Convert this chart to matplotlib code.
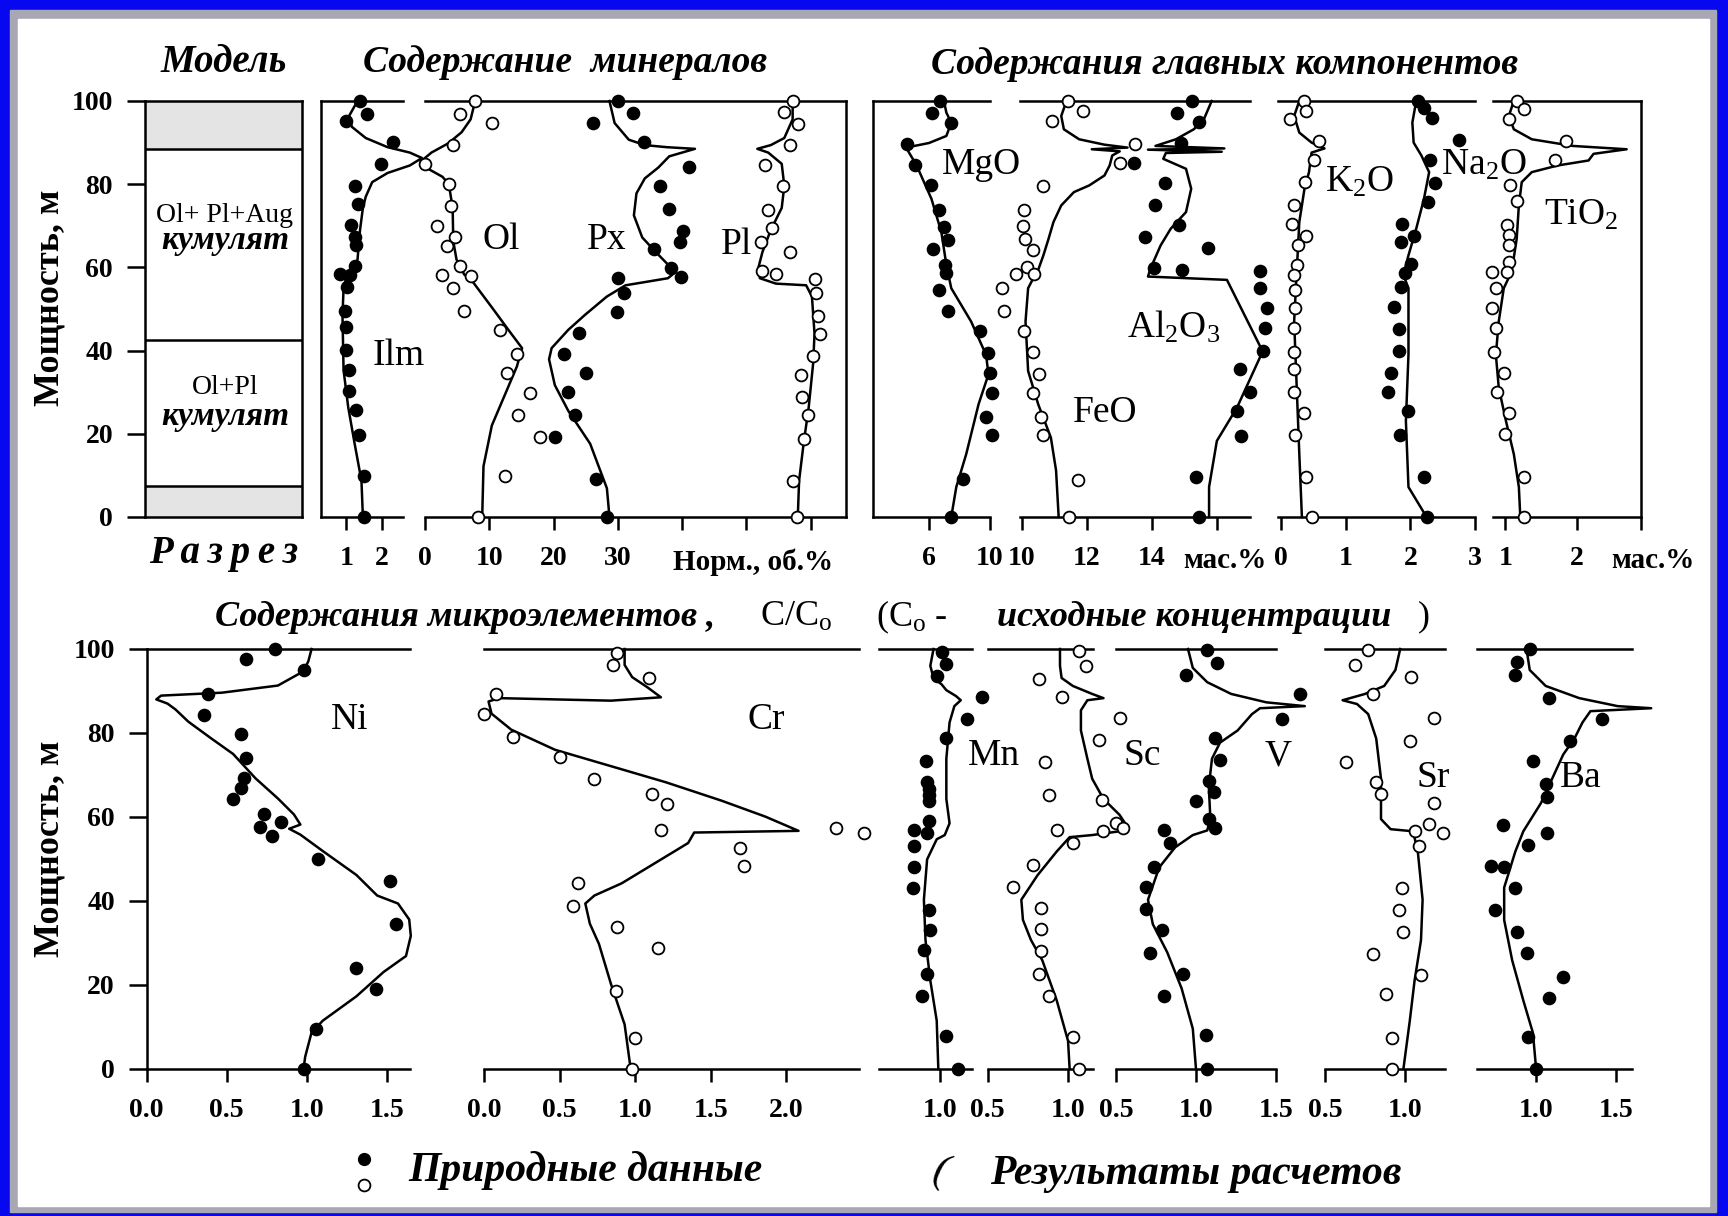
import numpy as np
import matplotlib.pyplot as plt
from matplotlib.patches import Rectangle

plt.rcParams['font.family'] = ['Liberation Serif', 'DejaVu Serif']
plt.rcParams['mathtext.fontset'] = 'custom'
plt.rcParams['mathtext.rm'] = 'Liberation Serif'
plt.rcParams['mathtext.it'] = 'Liberation Serif:italic'
plt.rcParams['mathtext.bf'] = 'Liberation Serif:bold'

# ---------------- data: depth (m) and value ----------------
# minerals, norm. vol.%
ilm_cd = [100, 96.5, 93.8, 91.1, 88.9, 87.6, 86.3, 84.5, 82.7, 80.5, 77.0, 74.3, 69.0, 61.9, 59.7, 57.9, 54.8, 48.6, 35.3, 26.4, 17.6, 8.7, 0]
ilm_cv = [1.31, 1.08, 1.15, 1.54, 2.15, 2.77, 3.11, 2.77, 2.15, 1.72, 1.54, 1.46, 1.38, 1.31, 1.23, 1.0, 0.92, 0.89, 0.92, 1.05, 1.23, 1.42, 1.46]
ilm_pd = [100, 96.9, 95.1, 90.2, 84.9, 79.6, 75.2, 70.1, 67.2, 65.4, 60.4, 58.3, 58.2, 55.2, 49.6, 45.7, 40.2, 35.3, 30.2, 25.8, 19.8, 9.8, 0]
ilm_pv = [1.38, 1.57, 1.0, 2.3, 1.97, 1.23, 1.31, 1.12, 1.23, 1.28, 1.23, 0.82, 1.11, 1.03, 0.95, 1.0, 1.0, 1.08, 1.08, 1.26, 1.34, 1.49, 1.49]

ol_cd = [100, 95.6, 92.5, 89.8, 87.6, 85.4, 83.6, 81.8, 80.1, 74.3, 66.3, 61.9, 58.3, 56.6, 50.4, 44.1, 40.6, 36.2, 30.0, 22.0, 12.2, 0]
ol_cv = [7.8, 7.1, 5.7, 3.6, 1.0, -0.7, 0.6, 2.7, 3.7, 4.3, 4.4, 4.9, 6.1, 7.4, 10.4, 13.4, 15.1, 14.3, 12.6, 10.4, 9.1, 8.9]
ol_pd = [100, 96.9, 94.7, 89.4, 84.9, 80.1, 74.7, 69.9, 67.2, 65.2, 60.3, 58.2, 57.9, 55.0, 49.6, 45.0, 39.3, 34.7, 29.8, 24.6, 19.3, 9.8, 0]
ol_pv = [7.8, 5.4, 10.4, 4.3, 0.0, 3.7, 4.0, 1.9, 4.6, 3.4, 5.4, 2.7, 7.1, 4.4, 6.1, 11.7, 14.3, 12.8, 16.3, 14.5, 17.9, 12.5, 8.3]

px_cd = [100, 94.7, 90.7, 89.4, 88.9, 88.5, 86.7, 84.0, 81.4, 77.8, 72.5, 67.2, 63.7, 61.0, 58.8, 57.4, 56.7, 55.7, 53.0, 48.6, 45.0, 40.6, 37.9, 31.7, 25.5, 17.6, 6.9, 0]
px_cv = [28.7, 29.5, 31.7, 34.2, 37.6, 42.0, 38.0, 36.3, 34.2, 32.9, 32.5, 33.8, 35.9, 37.6, 38.9, 37.8, 35.1, 31.2, 28.3, 24.9, 22.3, 19.7, 19.3, 20.2, 22.3, 25.7, 28.3, 28.7]
px_pd = [100, 97.1, 94.7, 90.2, 84.2, 79.6, 74.1, 68.8, 66.1, 64.4, 59.9, 57.6, 57.4, 53.9, 49.2, 44.3, 39.3, 34.7, 30.1, 24.6, 19.3, 9.1, 0]
px_pv = [30.1, 32.3, 26.1, 34.0, 41.0, 36.5, 38.0, 40.2, 39.7, 35.7, 38.3, 39.9, 30.0, 31.0, 29.8, 24.0, 21.6, 25.0, 22.3, 23.3, 20.3, 26.6, 28.3]

pl_cd = [100, 95.6, 91.1, 89.4, 88.5, 87.6, 84.9, 79.6, 74.3, 69.0, 63.7, 60.1, 57.4, 56.1, 55.7, 53.0, 44.1, 37.1, 26.4, 17.6, 8.7, 0]
pl_cv = [57.2, 57.2, 55.9, 53.8, 51.7, 53.4, 55.5, 55.9, 55.5, 53.8, 52.5, 51.9, 52.1, 54.6, 59.3, 60.2, 60.6, 60.4, 59.7, 58.9, 58.2, 58.0]
pl_pd = [100, 97.3, 94.5, 89.4, 84.5, 79.6, 73.8, 69.4, 66.1, 63.8, 59.2, 58.3, 57.3, 53.9, 48.4, 44.0, 38.7, 34.2, 28.9, 24.5, 18.7, 8.7, 0]
pl_pv = [57.2, 55.9, 58.0, 56.8, 52.9, 55.7, 53.4, 54.0, 52.3, 56.8, 52.5, 54.6, 60.6, 60.9, 61.1, 61.4, 60.4, 58.5, 58.6, 59.6, 58.9, 57.2, 57.9]

# major components, wt.%
mgo_cd = [100, 97.2, 94.8, 91.6, 89.9, 88.8, 84.5, 76.5, 68.5, 60.6, 55.0, 47.0, 39.0, 34.3, 27.1, 15.1, 7.2, 0]
mgo_cv = [6.98, 7.14, 7.46, 7.14, 6.0, 4.5, 5.19, 6.16, 6.81, 7.14, 7.46, 8.76, 9.74, 9.90, 9.25, 8.44, 7.79, 7.46]
mgo_pd = [100, 97.2, 94.6, 89.6, 84.5, 79.9, 73.7, 69.7, 66.5, 64.5, 60.6, 58.6, 54.6, 49.4, 44.6, 39.4, 34.7, 29.9, 24.1, 19.7, 9.2, 0]
mgo_pv = [6.75, 6.23, 7.46, 4.54, 5.09, 6.16, 6.65, 6.98, 7.24, 6.26, 7.07, 7.14, 6.65, 7.24, 9.32, 9.84, 10.0, 10.16, 9.74, 10.13, 8.21, 7.46]

feo_cd = [100, 96.4, 93.2, 90.8, 89.5, 88.8, 88.4, 87.9, 86.9, 84.5, 82.1, 79.7, 78.1, 74.9, 70.9, 66.9, 62.9, 59.4, 57.4, 55.0, 47.0, 35.1, 27.1, 19.1, 11.2, 0]
feo_cv = [11.37, 11.21, 11.29, 11.76, 12.54, 13.25, 12.15, 13.01, 12.78, 12.7, 12.54, 12.07, 11.6, 11.21, 10.97, 10.82, 10.66, 10.5, 10.35, 10.19, 10.11, 10.19, 10.5, 10.89, 11.05, 11.13]
feo_pd = [100, 97.6, 95.1, 89.6, 85.1, 79.5, 73.9, 70.0, 66.9, 64.3, 60.0, 58.3, 58.4, 55.0, 49.4, 44.6, 39.7, 34.4, 29.9, 24.1, 19.7, 9.0, 0]
feo_pv = [11.41, 11.87, 10.94, 13.48, 13.01, 10.66, 10.06, 10.03, 10.08, 10.35, 10.16, 9.81, 10.38, 9.40, 9.45, 10.06, 10.35, 10.53, 10.35, 10.58, 10.66, 11.73, 11.44]

al_cd = [100, 95.6, 93.2, 90.8, 89.2, 88.6, 88.3, 87.8, 87.5, 86.1, 83.7, 78.9, 73.3, 69.3, 65.3, 59.8, 57.8, 57.0, 39.8, 26.3, 18.3, 7.2, 0]
al_cv = [15.84, 15.6, 15.29, 14.74, 14.11, 16.23, 13.88, 16.15, 14.43, 14.35, 15.05, 15.21, 15.05, 14.58, 14.27, 13.96, 13.88, 16.31, 17.41, 16.62, 16.0, 15.76, 15.76]
al_pd = [100, 97.1, 95.0, 90.0, 85.1, 80.2, 74.9, 70.1, 67.3, 64.7, 59.8, 59.4, 59.1, 55.0, 50.2, 45.4, 39.8, 35.6, 30.1, 25.5, 19.5, 9.6, 0]
al_pv = [15.24, 14.77, 15.45, 14.9, 13.45, 14.4, 14.11, 14.82, 13.8, 15.73, 14.05, 14.93, 17.33, 17.33, 17.54, 17.49, 17.41, 16.7, 17.02, 16.62, 16.74, 15.37, 15.45]

k_cd = [100, 96.4, 92.4, 90.0, 88.6, 87.6, 82.9, 78.9, 70.9, 59.0, 47.0, 31.1, 15.1, 0]
k_cv = [0.28, 0.2, 0.28, 0.47, 0.67, 0.47, 0.43, 0.36, 0.28, 0.24, 0.20, 0.24, 0.28, 0.32]
k_pd = [100, 97.6, 95.6, 90.4, 85.9, 80.5, 74.9, 70.5, 67.5, 65.3, 60.6, 58.2, 54.6, 50.2, 45.4, 39.7, 35.5, 30.1, 24.9, 19.7, 9.6, 0]
k_pv = [0.36, 0.38, 0.14, 0.58, 0.51, 0.37, 0.2, 0.17, 0.38, 0.26, 0.24, 0.2, 0.21, 0.21, 0.2, 0.2, 0.2, 0.2, 0.36, 0.22, 0.39, 0.47]

na_cd = [100, 94.8, 90.0, 86.9, 82.9, 76.5, 69.3, 62.9, 58.2, 55.0, 39.0, 23.1, 7.2, 0]
na_cv = [2.09, 2.03, 2.05, 2.17, 2.29, 2.21, 2.09, 1.97, 1.89, 1.97, 1.97, 1.93, 1.97, 2.25]
na_pd = [100, 98.2, 95.8, 90.6, 85.7, 80.2, 75.7, 70.5, 67.5, 66.1, 60.8, 58.7, 55.4, 50.6, 45.3, 40.0, 34.7, 30.1, 25.5, 19.7, 9.6, 0]
na_pv = [2.11, 2.21, 2.33, 2.76, 2.31, 2.38, 2.27, 1.87, 2.05, 1.85, 2.01, 1.92, 1.85, 1.74, 1.82, 1.83, 1.7, 1.66, 1.97, 1.84, 2.21, 2.25]

ti_cd = [100, 96.4, 93.2, 90.8, 89.2, 88.4, 87.3, 85.7, 84.5, 82.9, 80.5, 74.9, 66.9, 59.0, 55.0, 47.0, 39.0, 31.1, 23.1, 15.1, 7.2, 0]
ti_cv = [1.12, 1.05, 1.12, 1.37, 1.94, 2.69, 2.23, 2.16, 1.73, 1.37, 1.23, 1.19, 1.16, 1.09, 0.98, 0.91, 0.87, 0.91, 1.01, 1.12, 1.19, 1.21]
ti_pd = [100, 98.0, 95.6, 90.4, 85.7, 79.8, 75.9, 70.3, 67.7, 65.3, 61.4, 59.0, 59.0, 55.0, 50.2, 45.4, 39.7, 34.5, 30.1, 25.1, 19.9, 9.6, 0]
ti_pv = [1.16, 1.26, 1.05, 1.84, 1.69, 1.07, 1.16, 1.03, 1.05, 1.05, 1.05, 0.82, 1.03, 0.87, 0.82, 0.87, 0.84, 0.98, 0.89, 1.05, 1.0, 1.26, 1.26]

# trace elements, C/Co
ni_cd = [100, 97.1, 94.7, 91.3, 89.6, 88.9, 88.0, 87.0, 85.6, 82.7, 78.8, 75.0, 69.2, 64.4, 60.6, 58.2, 57.2, 55.8, 51.9, 46.2, 41.3, 39.4, 35.6, 31.7, 26.9, 23.1, 17.3, 11.5, 8.7, 2.9, 0]
ni_cv = [1.03, 1.01, 0.98, 0.82, 0.47, 0.09, 0.06, 0.13, 0.18, 0.26, 0.40, 0.54, 0.68, 0.82, 0.92, 0.96, 0.89, 0.96, 1.10, 1.31, 1.44, 1.57, 1.64, 1.65, 1.62, 1.48, 1.31, 1.10, 1.03, 0.99, 0.98]
ni_pd = [100, 97.6, 95.0, 89.4, 84.4, 79.8, 74.0, 69.4, 66.8, 64.4, 60.6, 57.7, 58.8, 55.5, 50.0, 44.7, 34.6, 24.0, 19.0, 9.6, 0]
ni_pv = [0.80, 0.62, 0.98, 0.38, 0.36, 0.59, 0.62, 0.61, 0.59, 0.54, 0.73, 0.71, 0.84, 0.78, 1.07, 1.52, 1.56, 1.31, 1.43, 1.06, 0.98]

cr_cd = [100, 96.2, 93.3, 90.9, 88.5, 87.7, 88.3, 87.5, 84.6, 80.8, 76.0, 72.1, 68.3, 63.9, 60.1, 56.7, 56.3, 53.8, 49.0, 44.2, 41.3, 39.4, 34.6, 29.8, 20.2, 10.6, 0]
cr_cv = [0.93, 0.93, 0.98, 1.08, 1.17, 0.84, 0.10, 0.03, 0.05, 0.18, 0.47, 0.84, 1.20, 1.57, 1.86, 2.08, 1.39, 1.35, 1.13, 0.91, 0.73, 0.67, 0.70, 0.76, 0.84, 0.93, 0.97]
cr_pd = [99.0, 96.2, 93.0, 89.4, 84.6, 79.0, 74.2, 69.0, 65.4, 63.2, 57.0, 57.5, 56.1, 52.6, 48.4, 44.2, 38.7, 33.7, 28.7, 18.5, 7.4, 0]
cr_pv = [0.88, 0.85, 1.09, 0.08, 0.0, 0.19, 0.50, 0.73, 1.11, 1.21, 1.17, 2.33, 2.51, 1.69, 1.72, 0.62, 0.59, 0.88, 1.15, 0.87, 1.0, 0.98]

mn_cd = [100, 96.0, 93.1, 91.6, 90.2, 88.8, 87.8, 86.4, 82.5, 73.9, 64.3, 58.5, 55.7, 54.7, 49.9, 40.3, 30.7, 21.1, 11.5, 0]
mn_cv = [0.96, 0.94, 0.96, 1.01, 1.04, 1.10, 1.13, 1.09, 1.06, 1.04, 1.04, 1.06, 1.03, 0.98, 0.92, 0.90, 0.91, 0.94, 0.98, 0.99]
mn_pd = [99.3, 96.4, 93.6, 88.5, 83.3, 78.7, 73.4, 68.3, 66.7, 65.3, 63.8, 59.0, 56.8, 56.3, 53.0, 48.2, 43.2, 37.9, 33.1, 28.3, 22.7, 17.3, 7.9, 0]
mn_pv = [1.01, 1.04, 0.98, 1.26, 1.17, 1.04, 0.91, 0.92, 0.93, 0.93, 0.93, 0.93, 0.84, 0.92, 0.84, 0.84, 0.83, 0.93, 0.94, 0.90, 0.92, 0.89, 1.04, 1.11]

sc_cd = [100, 96.0, 93.1, 91.2, 89.3, 88.3, 87.8, 85.4, 80.6, 73.9, 69.1, 64.3, 60.5, 57.6, 56.6, 55.7, 55.2, 51.8, 46.1, 40.3, 35.5, 30.7, 25.9, 16.3, 6.7, 0]
sc_cv = [0.95, 0.95, 0.96, 1.03, 1.15, 1.22, 1.12, 1.08, 1.08, 1.12, 1.15, 1.22, 1.32, 1.37, 1.32, 1.15, 1.01, 0.93, 0.81, 0.71, 0.72, 0.77, 0.84, 0.93, 1.0, 1.01]
sc_pd = [99.6, 96.0, 92.9, 88.6, 83.5, 78.4, 73.2, 65.3, 64.0, 58.5, 57.4, 56.8, 56.6, 53.7, 48.5, 43.4, 38.4, 33.4, 28.0, 22.6, 17.3, 7.7, 0]
sc_pv = [1.07, 1.11, 0.82, 0.96, 1.32, 1.19, 0.86, 0.88, 1.21, 1.30, 1.34, 0.93, 1.22, 1.03, 0.78, 0.66, 0.83, 0.83, 0.83, 0.82, 0.88, 1.03, 1.07]

v_cd = [100, 95.5, 92.1, 89.3, 87.3, 86.4, 85.9, 84.5, 80.6, 77.7, 73.9, 67.2, 59.5, 56.8, 55.7, 52.8, 48.0, 40.3, 34.5, 27.8, 19.2, 9.6, 0]
v_cv = [0.95, 0.98, 1.07, 1.22, 1.44, 1.68, 1.40, 1.35, 1.26, 1.15, 1.10, 1.08, 1.09, 1.07, 0.98, 0.87, 0.77, 0.70, 0.73, 0.82, 0.91, 0.98, 1.0]
v_pd = [99.8, 96.7, 93.9, 89.3, 83.3, 78.7, 73.6, 68.6, 66.0, 63.8, 59.5, 56.8, 57.4, 53.7, 48.2, 43.4, 38.2, 33.1, 27.6, 22.6, 17.3, 8.0, 0]
v_pv = [1.07, 1.13, 0.94, 1.65, 1.54, 1.12, 1.15, 1.08, 1.11, 1.0, 1.08, 0.80, 1.12, 0.84, 0.74, 0.69, 0.69, 0.79, 0.71, 0.92, 0.80, 1.06, 1.07]

sr_cd = [100, 95.0, 91.2, 89.3, 87.8, 86.9, 84.5, 78.7, 69.1, 59.5, 57.1, 56.6, 51.8, 40.3, 30.7, 21.1, 11.5, 0]
sr_cv = [0.97, 0.94, 0.87, 0.75, 0.61, 0.70, 0.77, 0.82, 0.85, 0.85, 0.91, 1.05, 1.08, 1.11, 1.10, 1.06, 1.03, 0.99]
sr_pd = [99.8, 96.3, 93.3, 89.3, 83.5, 78.2, 73.2, 68.3, 65.5, 63.3, 58.3, 56.6, 56.3, 53.0, 43.0, 37.9, 32.6, 27.4, 22.4, 17.9, 7.5, 0]
sr_pv = [0.77, 0.69, 1.04, 0.80, 1.18, 1.03, 0.63, 0.82, 0.85, 1.18, 1.15, 1.06, 1.24, 1.09, 0.98, 0.96, 0.99, 0.80, 1.10, 0.88, 0.92, 0.92]

ba_cd = [100, 95.0, 91.2, 88.3, 86.4, 85.9, 85.2, 82.5, 78.7, 74.9, 69.1, 63.3, 56.6, 51.8, 43.2, 35.5, 25.9, 16.3, 8.6, 0]
ba_cv = [0.94, 0.96, 1.06, 1.27, 1.51, 1.72, 1.34, 1.29, 1.24, 1.17, 1.10, 1.03, 0.92, 0.87, 0.80, 0.80, 0.85, 0.92, 0.98, 1.0]
ba_pd = [100, 96.9, 93.9, 88.3, 83.3, 78.2, 73.4, 67.9, 64.8, 58.1, 56.1, 53.3, 48.3, 48.2, 43.2, 37.9, 32.6, 27.6, 21.8, 16.8, 7.7, 0]
ba_pv = [0.96, 0.88, 0.87, 1.08, 1.41, 1.21, 0.98, 1.06, 1.07, 0.79, 1.07, 0.95, 0.72, 0.80, 0.87, 0.74, 0.88, 0.94, 1.17, 1.08, 0.95, 1.0]

# model section boundaries (m)
zone_bounds = [7.4, 42.6, 88.5]

# ---------------- layout ----------------
W, H = 1728, 1216
TOP = (101, 517)    # pixel rows of 100 m and 0 m, upper row
BOT = (649, 1069)   # lower row
LW = 1.8
TICK_FS = 20

fig = plt.figure(figsize=(W / 100, H / 100), dpi=100)

bg = fig.add_axes([0, 0, 1, 1], zorder=-10)
bg.add_patch(Rectangle((0, 0), W, H, color='#0808f0'))
grad = np.linspace(0, 1, 256).reshape(1, -1)
bg.imshow(grad, extent=(0, W, 10, 0), aspect='auto',
          cmap=plt.matplotlib.colors.LinearSegmentedColormap.from_list('bar', ['#1414e8', '#00004a']))
bg.add_patch(Rectangle((10, 10), W - 22, H - 14, color='#a8a8b4'))
bg.add_patch(Rectangle((18, 19), W - 37, H - 29, color='white'))
bg.set_xlim(0, W)
bg.set_ylim(H, 0)
bg.axis('off')


def panel(x0, x1, rows, xlim, ticks, labels, left=False, right=False):
    ytop, ybot = rows
    ax = fig.add_axes([x0 / W, 1 - ybot / H, (x1 - x0) / W, (ybot - ytop) / H])
    ax.set_facecolor('none')
    ax.set_xlim(*xlim)
    ax.set_ylim(0, 100)
    ax.spines['left'].set_visible(left)
    ax.spines['right'].set_visible(right)
    for s in ax.spines.values():
        s.set_linewidth(LW)
    ax.set_xticks(ticks)
    ax.set_xticklabels(labels, fontweight='bold')
    ax.tick_params(axis='x', direction='out', length=9, width=LW, pad=12, labelsize=TICK_FS)
    ax.set_yticks([])
    return ax


def depth_axis(ax):
    ax.set_yticks(range(0, 101, 20))
    ax.set_yticklabels([str(v) for v in range(0, 101, 20)], fontweight='bold')
    ax.tick_params(axis='y', direction='out', length=13, width=LW, pad=10, labelsize=TICK_FS)


def draw(ax, cd, cv, pd, pv, filled):
    ax.plot(cv, cd, color='k', lw=LW, clip_on=False, zorder=2)
    ax.plot(pv, pd, 'o', ms=8.5, mfc='k' if filled else 'white', mec='k', mew=1.3,
            clip_on=False, zorder=3)


# model column
ax_mod = panel(145, 302, TOP, (0, 1), [], [], left=True, right=True)
depth_axis(ax_mod)
ax_mod.axhspan(zone_bounds[2], 100, color='#e4e4e4', zorder=0)
ax_mod.axhspan(0, zone_bounds[0], color='#e4e4e4', zorder=0)
for b in zone_bounds:
    ax_mod.axhline(b, color='k', lw=LW)

# minerals
ax_ilm = panel(321, 403, TOP, (0.29, 2.58), [1, 2], ['1', '2'], left=True)
draw(ax_ilm, ilm_cd, ilm_cv, ilm_pd, ilm_pv, True)
ax_min = panel(425, 846, TOP, (0, 65.5), [0, 10, 20, 30, 40, 50, 60],
               ['0', '10', '20', '30', '', '', ''], right=True)
draw(ax_min, ol_cd, ol_cv, ol_pd, ol_pv, False)
draw(ax_min, px_cd, px_cv, px_pd, px_pv, True)
draw(ax_min, pl_cd, pl_cv, pl_pd, pl_pv, False)

# major components
ax_mgo = panel(873, 990, TOP, (2.33, 10.0), [6, 10], ['6', '10'], left=True)
draw(ax_mgo, mgo_cd, mgo_cv, mgo_pd, mgo_pv, True)
ax_fa = panel(1020, 1250, TOP, (9.94, 17.02), [10, 12, 14, 16], ['10', '12', '14', ''])
draw(ax_fa, feo_cd, feo_cv, feo_pd, feo_pv, False)
draw(ax_fa, al_cd, al_cv, al_pd, al_pv, True)
ax_kn = panel(1278, 1475, TOP, (-0.05, 3.0), [0, 1, 2, 3], ['0', '1', '2', '3'])
draw(ax_kn, k_cd, k_cv, k_pd, k_pv, False)
draw(ax_kn, na_cd, na_cv, na_pd, na_pv, True)
ax_ti = panel(1493, 1641, TOP, (0.83, 2.89), [1, 2, 2.89], ['1', '2', ''], right=True)
draw(ax_ti, ti_cd, ti_cv, ti_pd, ti_pv, False)

# trace elements
ax_ni = panel(146.7, 410, BOT, (0, 1.645), [0, 0.5, 1, 1.5], ['0.0', '0.5', '1.0', '1.5'], left=True)
depth_axis(ax_ni)
draw(ax_ni, ni_cd, ni_cv, ni_pd, ni_pv, True)
ax_cr = panel(484, 859, BOT, (0, 2.48), [0, 0.5, 1, 1.5, 2], ['0.0', '0.5', '1.0', '1.5', '2.0'])
draw(ax_cr, cr_cd, cr_cv, cr_pd, cr_pv, False)
ax_mn = panel(879, 972, BOT, (0.62, 1.2), [1.0], ['1.0'])
draw(ax_mn, mn_cd, mn_cv, mn_pd, mn_pv, True)
ax_sc = panel(987.5, 1093, BOT, (0.5, 1.155), [0.5, 1.0], ['0.5', '1.0'])
draw(ax_sc, sc_cd, sc_cv, sc_pd, sc_pv, False)
ax_v = panel(1116, 1276, BOT, (0.5, 1.5), [0.5, 1.0, 1.5], ['0.5', '1.0', '1.5'])
draw(ax_v, v_cd, v_cv, v_pd, v_pv, True)
ax_sr = panel(1325, 1445, BOT, (0.5, 1.25), [0.5, 1.0], ['0.5', '1.0'])
draw(ax_sr, sr_cd, sr_cv, sr_pd, sr_pv, False)
ax_ba = panel(1477, 1632, BOT, (0.63, 1.6), [1.0, 1.5], ['1.0', '1.5'])
draw(ax_ba, ba_cd, ba_cv, ba_pd, ba_pv, True)

# ---------------- text ----------------
def t(x, y, s, size=24, style='italic', weight='bold', **kw):
    bg.text(x, y, s, fontsize=size, fontstyle=style, fontweight=weight,
            ha=kw.pop('ha', 'center'), va=kw.pop('va', 'center'), **kw)

t(224, 63, 'Модель', size=28)
t(565, 63, 'Содержание  минералов', size=27)
t(1225, 64, 'Содержания главных компонентов', size=27)
t(224, 553, '\u2009'.join('Разрез'), size=28)
t(753, 562, 'Норм., об.%', size=21, style='normal')
t(1225, 560, 'мас.%', size=21, style='normal')
t(1653, 560, 'мас.%', size=21, style='normal')
for y in (298, 849):
    t(50, y, 'Мощность, м', size=26, style='normal', rotation=90)

t(225, 125, 'В. П. З.', size=23)
t(225, 216, 'Ol+ Pl+Aug', size=20, style='normal', weight='normal')
t(225, 241, 'кумулят', size=24)
t(225, 388, 'Ol+Pl', size=20, style='normal', weight='normal')
t(225, 417, 'кумулят', size=24)
t(225, 504, 'Н. П. З.', size=23)

names = [('Ilm', 399, 356), ('Ol', 501, 240), ('Px', 607, 240), ('Pl', 736, 245),
         ('MgO', 981, 165), ('FeO', 1105, 413), ('Al$_2$O$_3$', 1174, 327),
         ('K$_2$O', 1359, 182), ('Na$_2$O', 1484, 165), ('TiO$_2$', 1581, 215),
         ('Ni', 350, 720), ('Cr', 766, 720), ('Mn', 994, 756), ('Sc', 1142, 756),
         ('V', 1278, 756), ('Sr', 1433, 778), ('Ba', 1581, 778)]
for s, x, y in names:
    t(x, y, s, size=27, style='normal', weight='normal')

t(215, 617, 'Содержания микроэлементов ,', size=26, ha='left')
t(760, 617, 'C/C$_\\mathrm{o}$', size=26, style='normal', weight='normal', ha='left')
t(876, 617, '(C$_\\mathrm{o}$ -', size=26, style='normal', weight='normal', ha='left')
t(997, 617, 'исходные концентрации', size=26, ha='left')
t(1418, 617, ')', size=26, style='normal', weight='normal', ha='left')

# legend
bg.plot([364], [1159], 'o', ms=8.5, color='k')
bg.plot([364], [1185], 'o', ms=8.5, mfc='white', mec='k', mew=1.3)
t(408, 1170, 'Природные данные', size=30, ha='left')
t(940, 1172, '(', size=30, style='italic', weight='normal', rotation=-15)
t(990, 1174, 'Результаты расчетов', size=30, ha='left')

fig.savefig('out.png', dpi=100)
plt.close(fig)
